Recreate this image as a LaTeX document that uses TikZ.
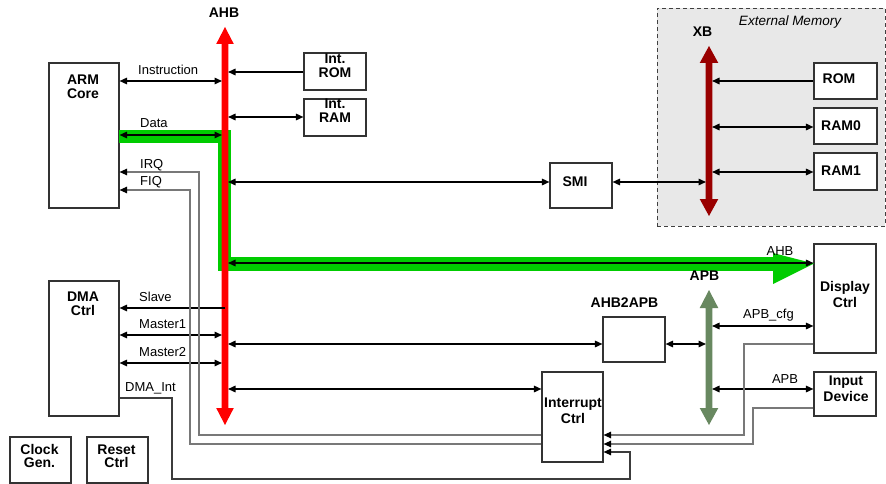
\documentclass[tikz,border=0pt]{standalone}
\usepackage{fontspec}
\setmainfont{Liberation Sans}
\usetikzlibrary{arrows.meta}
\definecolor{ahbred}{RGB}{255,0,0}
\definecolor{hlgreen}{RGB}{0,204,0}
\definecolor{xbred}{RGB}{153,0,0}
\definecolor{apbgreen}{RGB}{104,136,96}
\definecolor{memgray}{RGB}{232,232,232}
\definecolor{siggray}{RGB}{120,120,120}
\definecolor{dmagray}{RGB}{60,60,60}
\begin{document}
\begin{tikzpicture}[x=1pt,y=-1pt,
  >={Triangle[length=7.5pt,width=6.5pt]},
  box/.style={draw=black!80, line width=1.1pt, fill=white, inner sep=0pt},
  blk/.style={font=\fontsize{14}{14}\selectfont\bfseries, inner sep=0pt, align=center},
  blkwide/.style={font=\fontsize{14}{16}\selectfont\bfseries, inner sep=0pt, align=center},
  lbl/.style={font=\fontsize{13}{15}\selectfont, inner sep=0pt},
  conn/.style={draw=black, line width=1.5pt},
  sig/.style={draw=siggray, line width=1.2pt, -{Triangle[length=7.5pt,width=6.5pt,color=black]}},
  dsig/.style={draw=dmagray, line width=1.2pt, -{Triangle[length=7.5pt,width=6.5pt,color=black]}},
]
\useasboundingbox (0,0) rectangle (886,484);

% external memory area
\node[draw=black!75, line width=0.9pt, dash pattern=on 4pt off 3pt, fill=memgray,
      minimum width=228pt, minimum height=218pt, inner sep=0pt] (extmem) at (771,117) {};
\node[lbl, font=\fontsize{13.5}{16}\selectfont\itshape, anchor=base] (extmemt) at (790,26) {External Memory};

% boxes
\node[box, minimum width=70pt, minimum height=145pt] (arm) at (84,135.5) {};
\node[blk] (armt) at (83,87) {ARM\\Core};
\node[box, minimum width=70pt, minimum height=135pt] (dma) at (84,348.5) {};
\node[blk] (dmat) at (83,304) {DMA\\Ctrl};
\node[box, minimum width=61pt, minimum height=46pt] (clock) at (40.5,460) {};
\node[blk, font=\fontsize{14}{13.5}\selectfont\bfseries] (clockt) at (39.5,456) {Clock\\Gen.};
\node[box, minimum width=61pt, minimum height=46pt] (reset) at (117.5,460) {};
\node[blk, font=\fontsize{14}{13.5}\selectfont\bfseries] (resett) at (116.5,456) {Reset\\Ctrl};
\node[box, minimum width=62pt, minimum height=37pt] (introm) at (335,71.5) {};
\node[blk] (intromt) at (335,66) {Int.\\ROM};
\node[box, minimum width=62pt, minimum height=37pt] (intram) at (335,117.5) {};
\node[blk] (intramt) at (335,111) {Int.\\RAM};
\node[box, minimum width=62pt, minimum height=45pt] (smi) at (581,185.5) {};
\node[blk] (smit) at (575,182) {SMI};
\node[box, minimum width=63pt, minimum height=36pt] (rom) at (845.5,81) {};
\node[blk] (romt) at (839,79) {ROM};
\node[box, minimum width=63pt, minimum height=36pt] (ram0) at (845.5,126) {};
\node[blk] (ram0t) at (841,126) {RAM0};
\node[box, minimum width=63pt, minimum height=37pt] (ram1) at (845.5,171.5) {};
\node[blk] (ram1t) at (841,171) {RAM1};
\node[box, minimum width=62pt, minimum height=109pt] (disp) at (845,298.5) {};
\node[blkwide] (dispt) at (845,294) {Display\\Ctrl};
\node[box, minimum width=62pt, minimum height=44pt] (input) at (845,394) {};
\node[blkwide] (inputt) at (846,389) {Input\\Device};
\node[box, minimum width=62pt, minimum height=45pt] (a2a) at (634,339.5) {};
\node[blk] (a2at) at (624.5,303) {AHB2APB};
\node[box, minimum width=61pt, minimum height=90pt] (intr) at (572.5,417) {};
\node[blkwide] (intrt) at (573,411) {Interrupt\\Ctrl};

% highlighted data path
\draw[hlgreen, line width=13.5pt, line join=miter] (119,136.5) -- (224.5,136.5) -- (224.5,264) -- (774,264);
\fill[hlgreen] (773,253) -- (814,263.5) -- (773,284) -- cycle;

% buses
\fill[ahbred] (225,27) -- (233.8,44) -- (228.3,44) -- (228.3,408) -- (233.8,408) -- (225,425)
  -- (216.2,408) -- (221.7,408) -- (221.7,44) -- (216.2,44) -- cycle;
\node[blk] (ahbt) at (224,13) {AHB};
\fill[xbred] (709,46) -- (718.3,63) -- (712.3,63) -- (712.3,199) -- (718.3,199) -- (709,216)
  -- (699.7,199) -- (705.7,199) -- (705.7,63) -- (699.7,63) -- cycle;
\node[blk] (xbt) at (702.5,31.5) {XB};
\fill[apbgreen] (709,290) -- (718.3,308) -- (712.3,308) -- (712.3,408) -- (718.3,408) -- (709,425)
  -- (699.7,408) -- (705.7,408) -- (705.7,308) -- (699.7,308) -- cycle;
\node[blk] (apbt) at (704.5,276) {APB};

\coordinate (ahbL) at (222,0);
\coordinate (ahbC) at (225,0);
\coordinate (ahbR) at (228,0);
\coordinate (xbL) at (706,0);
\coordinate (xbR) at (712,0);
\coordinate (apbL) at (706,0);
\coordinate (apbR) at (712,0);

% AHB connections
\draw[conn, <->] (arm.east |- 0,81) -- (ahbL |- 0,81);
\draw[conn, <->] (arm.east |- 0,135) -- (ahbL |- 0,135);
\draw[conn, ->] (introm.west |- 0,72) -- (ahbR |- 0,72);
\draw[conn, <->] (ahbR |- 0,117) -- (intram.west |- 0,117);
\draw[conn, <->] (ahbR |- 0,182) -- (smi.west |- 0,182);
\draw[conn, <->] (ahbR |- 0,263) -- (disp.west |- 0,263);
\draw[conn, ->] (ahbC |- 0,308) -- (dma.east |- 0,308);
\draw[conn, <->] (dma.east |- 0,335) -- (ahbL |- 0,335);
\draw[conn, <->] (dma.east |- 0,363) -- (ahbL |- 0,363);
\draw[conn, <->] (ahbR |- 0,344) -- (a2a.west |- 0,344);
\draw[conn, <->] (ahbR |- 0,389) -- (intr.west |- 0,389);

% XB connections
\draw[conn, <->] (smi.east |- 0,182) -- (xbL |- 0,182);
\draw[conn, ->] (rom.west |- 0,81) -- (xbR |- 0,81);
\draw[conn, <->] (xbR |- 0,127) -- (ram0.west |- 0,127);
\draw[conn, <->] (xbR |- 0,172) -- (ram1.west |- 0,172);

% APB connections
\draw[conn, <->] (a2a.east |- 0,344) -- (apbL |- 0,344);
\draw[conn, <->] (apbR |- 0,326) -- (disp.west |- 0,326);
\draw[conn, <->] (apbR |- 0,389) -- (input.west |- 0,389);

% interrupt lines
\draw[sig] (intr.west |- 0,435) -| (199,172) -- (arm.east |- 0,172);
\draw[sig] (intr.west |- 0,444) -| (190,190) -- (arm.east |- 0,190);
\draw[sig] (disp.west |- 0,344) -| (744,435) -- (intr.east |- 0,435);
\draw[sig] (input.west |- 0,408) -| (753,444) -- (intr.east |- 0,444);
\draw[dsig] (dma.east |- 0,398) -| (172,479) -| (630,452) -- (intr.east |- 0,452);

% labels
\node[lbl, anchor=base west] (l-instr) at (138,75) {Instruction};
\node[lbl, anchor=base west] (l-data) at (140,128) {Data};
\node[lbl, anchor=base west] (l-irq) at (140,168) {IRQ};
\node[lbl, anchor=base west] (l-fiq) at (140,185) {FIQ};
\node[lbl, anchor=base west] (l-slave) at (139,301) {Slave};
\node[lbl, anchor=base west] (l-m1) at (139,328) {Master1};
\node[lbl, anchor=base west] (l-m2) at (139,356) {Master2};
\node[lbl, anchor=base west] (l-dmaint) at (125,391) {DMA\_Int};
\node[lbl, anchor=base] (l-ahb) at (780,255) {AHB};
\node[lbl, anchor=base] (l-apbcfg) at (768.5,318) {APB\_cfg};
\node[lbl, anchor=base] (l-apb) at (785,383) {APB};
\end{tikzpicture}
\end{document}
